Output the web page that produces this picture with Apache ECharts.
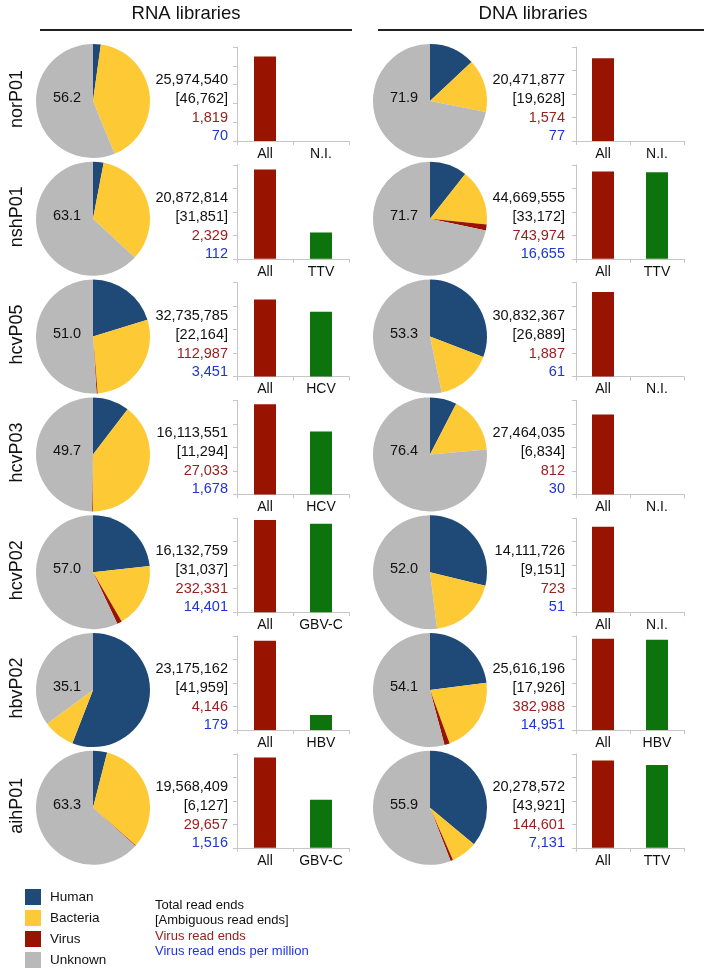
<!DOCTYPE html>
<html>
<head>
<meta charset="utf-8">
<script src="https://cdn.jsdelivr.net/npm/echarts@6/dist/echarts.min.js"></script>
<style>
  html, body { margin: 0; padding: 0; background: #fff; }
  #main { width: 712px; height: 969px; }
</style>
</head>
<body>
<div id="main"></div>
<script>
// samples, one row each
const samples = ['norP01', 'nshP01', 'hcvP05', 'hcvP03', 'hcvP02', 'hbvP02', 'aihP01']

// RNA libraries: pie shares (%)
const rnaHuman = [2.2, 3.0, 20.2, 10.4, 23.3, 55.9, 4.0]
const rnaBacteria = [41.6, 33.9, 28.5, 39.7, 18.3, 9.0, 32.5]
const rnaVirus = [0, 0, 0.3, 0.2, 1.4, 0, 0.2]
const rnaUnknown = [56.2, 63.1, 51.0, 49.7, 57.0, 35.1, 63.3]
// RNA read counts
const rnaTotal = [25974540, 20872814, 32735785, 16113551, 16132759, 23175162, 19568409]
const rnaAmbiguous = [46762, 31851, 22164, 11294, 31037, 41959, 6127]
const rnaVirusReads = [1819, 2329, 112987, 27033, 232331, 4146, 29657]
const rnaPerMillion = [70, 112, 3451, 1678, 14401, 179, 1516]
// RNA bars (relative height)
const rnaVirusName = ['N.I.', 'TTV', 'HCV', 'HCV', 'GBV-C', 'HBV', 'GBV-C']
const rnaBarAll = [90, 95, 82, 96, 98, 95, 96]
const rnaBarVirus = [0, 28, 69, 67, 94, 16, 51]

// DNA libraries: pie shares (%)
const dnaHuman = [13.0, 10.6, 30.8, 7.6, 28.8, 23.0, 36.0]
const dnaBacteria = [15.1, 16.0, 15.9, 16.0, 19.2, 21.4, 7.4]
const dnaVirus = [0, 1.7, 0, 0, 0, 1.5, 0.7]
const dnaUnknown = [71.9, 71.7, 53.3, 76.4, 52.0, 54.1, 55.9]
// DNA read counts
const dnaTotal = [20471877, 44669555, 30832367, 27464035, 14111726, 25616196, 20278572]
const dnaAmbiguous = [19628, 33172, 26889, 6834, 9151, 17926, 43921]
const dnaVirusReads = [1574, 743974, 1887, 812, 723, 382988, 144601]
const dnaPerMillion = [77, 16655, 61, 30, 51, 14951, 7131]
// DNA bars (relative height)
const dnaVirusName = ['N.I.', 'TTV', 'N.I.', 'N.I.', 'N.I.', 'HBV', 'TTV']
const dnaBarAll = [88, 93, 90, 85, 91, 97, 93]
const dnaBarVirus = [0, 92, 0, 0, 0, 96, 88]

const legendNames = ['Human', 'Bacteria', 'Virus', 'Unknown']
const noteLines = ['Total read ends', '[Ambiguous read ends]', 'Virus read ends', 'Virus read ends per million']

const FONT = '"Liberation Sans", Arial, sans-serif'
const COLORS = { Human: '#1f4a78', Bacteria: '#fdc934', Virus: '#981300', Unknown: '#b9b9b9' }
const GREEN = '#0d730d'
const TXT = ['#111', '#111', '#9a2020', '#1d34d6']
const AXIS = '#c6c6c6'

const columns = [
  {
    pieX: 93, textX: 228, gridLeft: 237, gridWidth: 112,
    human: rnaHuman, bacteria: rnaBacteria, virus: rnaVirus, unknown: rnaUnknown,
    total: rnaTotal, ambiguous: rnaAmbiguous, virusReads: rnaVirusReads, perMillion: rnaPerMillion,
    virusName: rnaVirusName, barAll: rnaBarAll, barVirus: rnaBarVirus
  },
  {
    pieX: 430, textX: 565, gridLeft: 576, gridWidth: 108,
    human: dnaHuman, bacteria: dnaBacteria, virus: dnaVirus, unknown: dnaUnknown,
    total: dnaTotal, ambiguous: dnaAmbiguous, virusReads: dnaVirusReads, perMillion: dnaPerMillion,
    virusName: dnaVirusName, barAll: dnaBarAll, barVirus: dnaBarVirus
  }
]

const rowY = (i) => 101 + 117.8 * i
const fmt = (n) => n.toLocaleString('en-US')

const series = []
const grid = []
const xAxis = []
const yAxis = []
const graphic = []

// headers
graphic.push(
  { type: 'text', x: 186, y: 14, style: { text: 'RNA libraries', font: '18.5px ' + FONT, fill: '#111', textAlign: 'center', textVerticalAlign: 'middle' } },
  { type: 'text', x: 533, y: 14, style: { text: 'DNA libraries', font: '18.5px ' + FONT, fill: '#111', textAlign: 'center', textVerticalAlign: 'middle' } },
  { type: 'line', shape: { x1: 40, y1: 30, x2: 352, y2: 30 }, style: { stroke: '#222', lineWidth: 2 } },
  { type: 'line', shape: { x1: 378, y1: 30, x2: 704, y2: 30 }, style: { stroke: '#222', lineWidth: 2 } }
)

columns.forEach((col, c) => {
  samples.forEach((name, i) => {
    const cy = rowY(i)
    const g = grid.length

    series.push({
      type: 'pie',
      center: [col.pieX, cy],
      radius: 57,
      startAngle: 90,
      silent: true,
      label: { show: false },
      labelLine: { show: false },
      data: legendNames.map((k, j) => ({
        name: k,
        value: [col.human, col.bacteria, col.virus, col.unknown][j][i],
        itemStyle: { color: COLORS[k] }
      }))
    })

    grid.push({ left: col.gridLeft, top: cy - 54, width: col.gridWidth, height: 94 })
    xAxis.push({
      gridIndex: g,
      type: 'category',
      data: ['All', col.virusName[i]],
      axisLine: { lineStyle: { color: AXIS } },
      axisTick: { show: true, length: 4, lineStyle: { color: AXIS } },
      axisLabel: { color: '#111', fontSize: 14, fontFamily: FONT, margin: 6, interval: 0 }
    })
    yAxis.push({
      gridIndex: g,
      type: 'value',
      min: 0,
      max: 100,
      interval: (c === 0 && i === 0) ? 20 : 25,
      axisLine: { show: true, lineStyle: { color: AXIS } },
      axisTick: { show: true, length: 4, lineStyle: { color: AXIS } },
      axisLabel: { show: false },
      splitLine: { show: false }
    })
    series.push({
      type: 'bar',
      xAxisIndex: g,
      yAxisIndex: g,
      barWidth: 22,
      silent: true,
      data: [
        { value: col.barAll[i], itemStyle: { color: COLORS.Virus } },
        { value: col.barVirus[i], itemStyle: { color: GREEN } }
      ]
    })

    // read counts
    const lines = [fmt(col.total[i]), '[' + fmt(col.ambiguous[i]) + ']', fmt(col.virusReads[i]), fmt(col.perMillion[i])]
    const offs = [-21, -2, 17, 35]
    lines.forEach((t, k) => {
      graphic.push({ type: 'text', z: 100, x: col.textX, y: cy + offs[k], style: { text: t, font: '14.5px ' + FONT, fill: TXT[k], textAlign: 'right', textVerticalAlign: 'middle' } })
    })

    // unknown share label, on top of the pie
    graphic.push({ type: 'text', z: 100, x: col.pieX - 26, y: cy - 3, style: { text: col.unknown[i].toFixed(1), font: '14.5px ' + FONT, fill: '#111', textAlign: 'center', textVerticalAlign: 'middle' } })

    if (c === 0) {
      graphic.push({ type: 'text', z: 100, x: 17, y: cy - 2, rotation: Math.PI / 2, style: { text: name, font: '18px ' + FONT, fill: '#111', textAlign: 'center', textVerticalAlign: 'middle' } })
    }
  })
})

// legend note
noteLines.forEach((t, k) => {
  graphic.push({ type: 'text', z: 100, x: 155, y: 905 + k * 15.5, style: { text: t, font: '13px ' + FONT, fill: TXT[k], textAlign: 'left', textVerticalAlign: 'middle' } })
})

const chart = echarts.init(document.getElementById('main'))
chart.setOption({
  animation: false,
  legend: {
    data: legendNames,
    orient: 'vertical',
    left: 20,
    top: 884,
    height: 84,
    icon: 'rect',
    itemWidth: 16,
    itemHeight: 16,
    itemGap: 5,
    selectedMode: false,
    textStyle: { fontSize: 13.5, fontFamily: FONT, color: '#111', padding: [0, 0, 0, 4] }
  },
  grid,
  xAxis,
  yAxis,
  series,
  graphic
})
</script>
</body>
</html>
